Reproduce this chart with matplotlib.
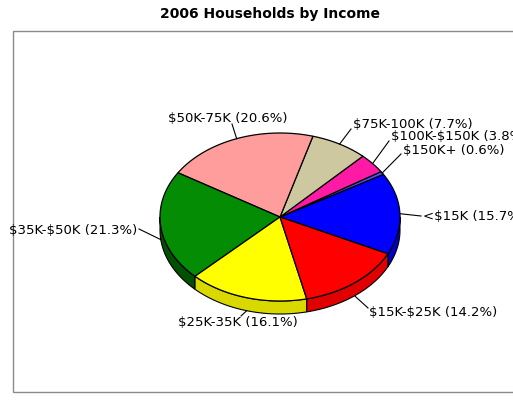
import matplotlib.pyplot as plt
import numpy as np
from matplotlib.patches import Polygon, Rectangle

# data, in drawing order (counterclockwise from the start angle)
labels = ['<$15K', '$150K+', '$100K-$150K', '$75K-100K', '$50K-75K',
          '$35K-$50K', '$25K-35K', '$15K-$25K']
pcts = [15.7, 0.6, 3.8, 7.7, 20.6, 21.3, 16.1, 14.2]
colors = ['#0000ff', '#5050ff', '#ff1aa6', '#cdc8a0', '#ff9c9c',
          '#058c05', '#ffff00', '#ff0000']
side_colors = ['#0000c8', '#3030c8', '#c8147f', '#a8a480', '#d88080',
               '#034f03', '#d9d900', '#e00000']

# layout (pixels)
cx, cy = 280, 217
rx, ry = 120, 84
depth = 13
start = -26.0

# label text anchors and alignments
txt_pos = [(423, 217, 'left'), (403, 151, 'left'), (391, 137, 'left'),
           (353, 124, 'left'), (228, 118, 'center'), (137, 230, 'right'),
           (238, 323, 'center'), (369, 313, 'left')]
line_end = [(421, 216), (401, 154), (389, 141), (351, 129), (232, 124),
            (139, 229), (241, 316), (368, 308)]

plt.rcParams['font.family'] = ['DejaVu Sans']
plt.rcParams['text.parse_math'] = False
fig = plt.figure(figsize=(5.13, 4.13), dpi=100)
ax = fig.add_axes([0, 0, 1, 1])
ax.set_xlim(0, 513)
ax.set_ylim(413, 0)
ax.axis('off')

ax.add_patch(Rectangle((13, 31), 520, 361, fill=False, edgecolor='#8a8a8a',
                       lw=1, clip_on=False))
ax.text(270, 14, '2006 Households by Income', ha='center', va='center',
        fontsize=10, fontweight='bold')

def pt(theta, dz=0):
    t = np.radians(theta)
    return cx + rx * np.cos(t), cy - ry * np.sin(t) + dz

fr = np.array(pcts) / sum(pcts) * 360.0
a0 = start + np.concatenate([[0], np.cumsum(fr)[:-1]])
a1 = a0 + fr

# side walls (front half only)
for i in range(len(pcts)):
    for off in (0, 360, -360):
        lo = max(a0[i] + off, 180)
        hi = min(a1[i] + off, 360)
        if hi <= lo:
            continue
        th = np.linspace(lo, hi, 60)
        top = [pt(t) for t in th]
        bot = [pt(t, depth) for t in th[::-1]]
        ax.add_patch(Polygon(top + bot, closed=True, facecolor=side_colors[i],
                             edgecolor='black', lw=0.8, zorder=2))

# top faces
for i in range(len(pcts)):
    th = np.linspace(a0[i], a1[i], 80)
    verts = [(cx, cy)] + [pt(t) for t in th]
    ax.add_patch(Polygon(verts, closed=True, facecolor=colors[i],
                         edgecolor='black', lw=0.9, zorder=3))

# labels with leader lines
for i in range(len(pcts)):
    mid = (a0[i] + a1[i]) / 2.0
    m = mid % 360
    dz = depth if 180 < m < 360 else 0
    sx, sy = pt(mid, dz)
    ex, ey = line_end[i]
    ax.plot([sx, ex], [sy, ey], color='black', lw=0.8, zorder=4)
    x, y, ha = txt_pos[i]
    ax.text(x, y, '%s (%.1f%%)' % (labels[i], pcts[i]), ha=ha, va='center',
            fontsize=9.5, zorder=5, clip_on=False)

fig.savefig('out.png', dpi=100)
